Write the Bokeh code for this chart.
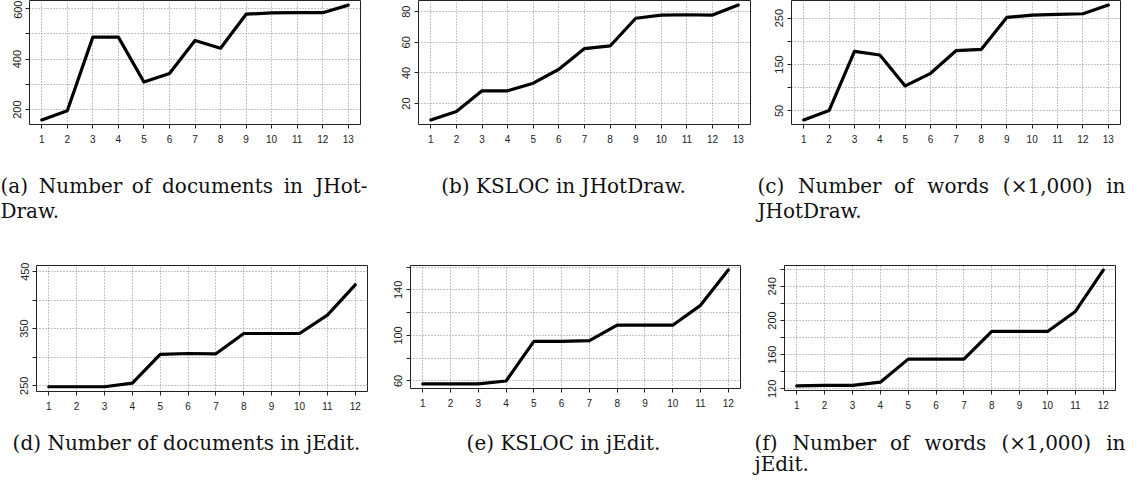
from bokeh.plotting import figure
from bokeh.models import Range1d, FixedTicker
from bokeh.layouts import row, column
from bokeh.core.properties import value
from bokeh.embed import file_html
from bokeh.resources import INLINE

# ---------------- data ----------------
versions_jhotdraw = list(range(1, 14))
versions_jedit = list(range(1, 13))

jhotdraw_docs = [159, 195, 487, 487, 309, 343, 474, 443, 578, 583, 584, 584, 614]
jhotdraw_ksloc = [9.3, 14.8, 28.3, 28.3, 33.3, 42.4, 55.9, 57.6, 75.7, 77.8, 78.0, 77.8, 84.3]
jhotdraw_words = [30.6, 50.7, 178.3, 170.4, 103.8, 131.0, 179.7, 182.6, 251.4, 256.5, 257.9, 259.3, 278.0]

jedit_docs = [248.3, 248.3, 248.3, 254.7, 304.8, 306.5, 306.0, 341.5, 341.5, 341.5, 373.6, 426.7]
jedit_ksloc = [57.4, 57.4, 57.4, 60.0, 94.8, 94.8, 95.4, 109.0, 109.0, 109.0, 126.4, 157.4]
jedit_words = [123.5, 124.0, 124.0, 127.8, 154.8, 154.8, 154.8, 187.2, 187.2, 187.2, 210.6, 259.0]

# y tick positions (grid) and which of them carry a label
ticks_a = [200, 300, 400, 500, 600];            labels_a = [200, 400, 600]
ticks_b = [20, 40, 60, 80];                     labels_b = [20, 40, 60, 80]
ticks_c = [50, 100, 150, 200, 250];             labels_c = [50, 150, 250]
ticks_d = [250, 300, 350, 400, 450];            labels_d = [250, 350, 450]
ticks_e = [60, 80, 100, 120, 140, 160];         labels_e = [60, 100, 140]
ticks_f = [120, 140, 160, 180, 200, 220, 240, 260]; labels_f = [120, 160, 200, 240]

caption_a = ["(a) Number of documents in JHot-", "Draw."]
caption_b = ["(b) KSLOC in JHotDraw."]
caption_c = ["(c) Number of words (×1,000) in", "JHotDraw."]
caption_d = ["(d) Number of documents in jEdit."]
caption_e = ["(e) KSLOC in jEdit."]
caption_f = ["(f) Number of words (×1,000) in", "jEdit."]

CAP_FONT = "DejaVu Serif"
CAP_PX = 20
# approximate advance widths (em) of DejaVu Serif, used only to justify lines
EM = {' ': .318, '(': .390, ')': .390, 'a': .596, 'b': .640, 'c': .560, 'd': .640,
      'e': .592, 'f': .370, 'i': .320, 'j': .320, 'm': .948, 'n': .644, 'o': .602,
      'r': .478, 's': .513, 't': .402, 'u': .644, 'w': .856, 'N': .813, 'J': .473,
      'H': .872, 'D': .830, 'E': .730, '-': .338, '.': .318, ',': .318, '0': .636,
      '1': .636, '×': .838}


def word_width(w):
    return sum(EM.get(ch, 0.6) for ch in w) * CAP_PX


def r_range(vals):
    lo, hi = min(vals), max(vals)
    pad = 0.04 * (hi - lo)
    return lo - pad, hi + pad


def panel(x, y, yticks, ylabels, geom, ylim=None):
    left, fw, right, top, fh, bottom = geom
    xlo, xhi = r_range(x)
    ylo, yhi = ylim if ylim is not None else r_range(y)
    p = figure(frame_width=fw, frame_height=fh,
               min_border_left=left, min_border_right=right,
               min_border_top=top, min_border_bottom=bottom,
               x_range=Range1d(xlo, xhi), y_range=Range1d(ylo, yhi),
               output_backend="svg", toolbar_location=None)
    p.background_fill_color = "white"
    p.border_fill_color = "white"
    p.outline_line_color = "#222222"
    p.outline_line_width = 1

    p.xgrid.ticker = FixedTicker(ticks=x)
    p.ygrid.ticker = FixedTicker(ticks=yticks)
    for g in (p.xgrid[0], p.ygrid[0]):
        g.grid_line_color = "#8a8a8a"
        g.grid_line_dash = "1 2"
        g.grid_line_width = 1

    p.line(x, y, line_color="black", line_width=3.2, line_join="round", line_cap="round")

    xa = p.xaxis[0]
    xa.ticker = FixedTicker(ticks=x)
    xa.bounds = (min(x), max(x))
    ya = p.yaxis[0]
    ya.ticker = FixedTicker(ticks=yticks)
    ya.bounds = (min(yticks), max(yticks))
    ya.major_label_overrides = {t: "" for t in yticks if t not in ylabels}
    ya.major_label_orientation = "vertical"
    for ax in (xa, ya):
        ax.axis_line_color = "#222222"
        ax.major_tick_line_color = "#222222"
        ax.major_tick_out = 4
        ax.major_tick_in = 0
        ax.minor_tick_out = 0
        ax.minor_tick_in = 0
        ax.major_label_text_font = "Liberation Sans"
        ax.major_label_text_color = "#222222"
    xa.major_label_text_font_size = "10px"
    xa.major_label_standoff = 6
    ya.major_label_text_font_size = "11px"
    ya.major_label_standoff = 4
    return p


def caption_strip(page_top, page_bottom):
    """A blank, axis-free figure whose data coordinates equal page pixel coordinates."""
    s = figure(width=1126, height=page_bottom - page_top,
               x_range=Range1d(8, 1134), y_range=Range1d(page_bottom, page_top),
               x_axis_location=None, y_axis_location=None,
               min_border=0, output_backend="svg", toolbar_location=None)
    s.grid.visible = False
    s.outline_line_color = None
    s.background_fill_color = "white"
    s.border_fill_color = "white"
    return s


def put(s, x, y, text, align="left"):
    s.text(x=[x], y=[y], text=[text], text_font=value(CAP_FONT),
           text_font_size=f"{CAP_PX}px", text_color="#111111",
           text_align=align, text_baseline="alphabetic")


def put_justified(s, start, end, y, line):
    words = line.split(" ")
    widths = [word_width(w) for w in words]
    gap = (end - start - sum(widths)) / (len(words) - 1)
    xs = start
    for w, wd in zip(words[:-1], widths[:-1]):
        put(s, xs, y, w)
        xs += wd + gap
    put(s, end, y, words[-1], align="right")


# geometry: (min_border_left, frame_width, min_border_right, min_border_top, frame_height, min_border_bottom)
pa = panel(versions_jhotdraw, jhotdraw_docs, ticks_a, labels_a, (29, 331, 20, 0, 124, 25))
pb = panel(versions_jhotdraw, jhotdraw_ksloc, ticks_b, labels_b, (38, 332, 10, 0, 124, 25))
pc = panel(versions_jhotdraw, jhotdraw_words, ticks_c, labels_c, (31, 329, 6, 0, 124, 25))
pd = panel(versions_jedit, jedit_docs, ticks_d, labels_d, (36, 331, 13, 1, 126, 21), ylim=(240, 460.5))
pe = panel(versions_jedit, jedit_ksloc, ticks_e, labels_e, (30, 330, 20, 3, 123, 22))
pf = panel(versions_jedit, jedit_words, ticks_f, labels_f, (24, 331, 11, 2, 125, 21))

# caption strips (page pixel coordinates)
cap1 = caption_strip(157, 270)
cap2 = caption_strip(418, 483)

R1B1, R1B2 = 193, 218
R2B1, R2B2 = 450, 471

put_justified(cap1, 8, 375, R1B1, caption_a[0])
put(cap1, 8, R1B2, caption_a[1])
put(cap1, 571, R1B1, caption_b[0], align="center")
put_justified(cap1, 765, 1133, R1B1, caption_c[0])
put(cap1, 765, R1B2, caption_c[1])

put(cap2, 194, R2B1, caption_d[0], align="center")
put(cap2, 571, R2B1, caption_e[0], align="center")
put_justified(cap2, 762, 1133, R2B1, caption_f[0])
put(cap2, 762, R2B2, caption_f[1])

layout = column(row(pa, pb, pc), cap1, row(pd, pe, pf), cap2)

open("out.html", "w").write(file_html(layout, INLINE))
